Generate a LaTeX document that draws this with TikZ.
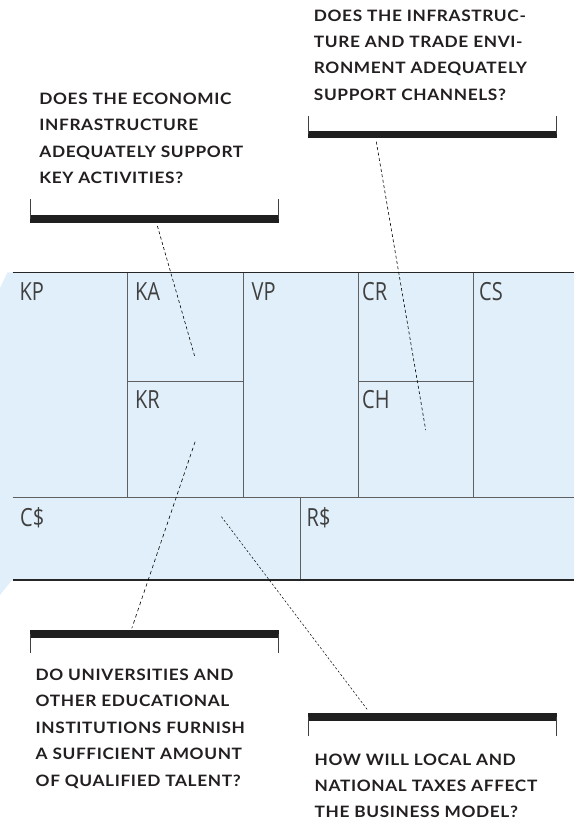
\documentclass[tikz,border=0pt]{standalone}
\usepackage{fontspec}
\setmainfont{Lato}
\newfontfamily\cellfont[FakeStretch=0.8]{Open Sans}
\newfontfamily\qfont[LetterSpace=4,FakeStretch=1.1]{Lato}
\definecolor{canvasblue}{RGB}{224,239,249}
\definecolor{gridgray}{RGB}{95,95,95}
\definecolor{qtext}{RGB}{35,31,32}
\begin{document}
\begin{tikzpicture}[x=1pt,y=-1pt,
  gridline/.style={draw=gridgray, line width=0.9pt},
  edgeline/.style={draw=black!85, line width=1.1pt},
  celllabel/.style={anchor=base west, inner sep=0pt, font=\cellfont\fontsize{25}{25}\selectfont, text=black!75},
  question/.style={anchor=north west, inner sep=0pt, align=left, font=\qfont\bfseries\fontsize{15.7}{26.4}\selectfont, text=qtext},
  bar/.style={fill=black!88, draw=none, inner sep=0pt, minimum width=248.5pt, minimum height=7.5pt},
  tick/.style={draw=black!75, line width=0.8pt},
  leader/.style={draw=black, line width=0.6pt, dash pattern=on 3pt off 2.5pt}]
\useasboundingbox (0,0) rectangle (574,821);
% canvas background
\fill[canvasblue] (0,288) -- (7.5,272.3) -- (574,272.3) -- (574,580) -- (12,580) -- (0,595) -- cycle;
% grid
\draw[gridline] (12.5,497.3) -- (574,497.3);
\foreach \xx in {127.7,243,358,473.3} \draw[gridline] (\xx,272.3) -- (\xx,497.3);
\draw[gridline] (127.7,381.3) -- (243,381.3);
\draw[gridline] (358,381.3) -- (473.3,381.3);
\draw[gridline] (300.1,497.3) -- (300.1,580);
\draw[edgeline] (12.5,272.3) -- (574,272.3);
\draw[edgeline] (12.5,580) -- (574,580);
% cell labels
\node[celllabel] (kp) at (19.5,300.5) {KP};
\node[celllabel] (ka) at (135,300.5) {KA};
\node[celllabel] (vp) at (251.5,300.5) {VP};
\node[celllabel] (cr) at (362,300.5) {CR};
\node[celllabel] (cs) at (479,300.5) {CS};
\node[celllabel] (kr) at (135,408.5) {KR};
\node[celllabel] (ch) at (362,408.5) {CH};
\node[celllabel] (cd) at (20,526.7) {C\$};
\node[celllabel] (rd) at (306.5,526.7) {R\$};
% brackets
\node[bar] (bar1) at (154.5,218.85) {};
\draw[tick] (30.5,199.3) -- (30.5,219) (278.4,199.3) -- (278.4,219);
\node[bar] (bar2) at (432.3,134.65) {};
\draw[tick] (308.7,116) -- (308.7,134.5) (556,116) -- (556,134.5);
\node[bar] (bar3) at (154.5,633.85) {};
\draw[tick] (30.5,633.8) -- (30.5,652.7) (278.4,633.8) -- (278.4,652.7);
\node[bar] (bar4) at (432.3,717) {};
\draw[tick] (308.7,717) -- (308.7,736) (556,717) -- (556,736);
% questions
\node[question] (q1) at (39.2,92.75) {DOES THE ECONOMIC\\INFRASTRUCTURE\\ADEQUATELY SUPPORT\\KEY ACTIVITIES?};
\node[question] (q2) at (313.7,9.45) {DOES THE INFRASTRUC-\\TURE AND TRADE ENVI-\\RONMENT ADEQUATELY\\SUPPORT CHANNELS?};
\node[question] (q3) at (35.5,668.75) {DO UNIVERSITIES AND\\OTHER EDUCATIONAL\\INSTITUTIONS FURNISH\\A SUFFICIENT AMOUNT\\OF QUALIFIED TALENT?};
\node[question] (q4) at (314.5,753.5) {HOW WILL LOCAL AND\\NATIONAL TAXES AFFECT\\THE BUSINESS MODEL?};
% leader end points
\coordinate (l1a) at (157.4,226);
\coordinate (l1b) at (195.1,357.7);
\coordinate (l2a) at (376.3,141.7);
\coordinate (l2b) at (425.7,430);
\coordinate (l3a) at (195.1,441.7);
\coordinate (l3b) at (131.8,628.3);
\coordinate (l4a) at (221.4,516.7);
\coordinate (l4b) at (367.1,709.3);
\draw[leader] (l1a) -- (l1b);
\draw[leader] (l2a) -- (l2b);
\draw[leader, dash pattern=on 3.5pt off 3pt] (l3a) -- (l3b);
\draw[leader, line width=0.5pt, dash pattern=on 2.2pt off 2pt] (l4a) -- (l4b);
\end{tikzpicture}
\end{document}
